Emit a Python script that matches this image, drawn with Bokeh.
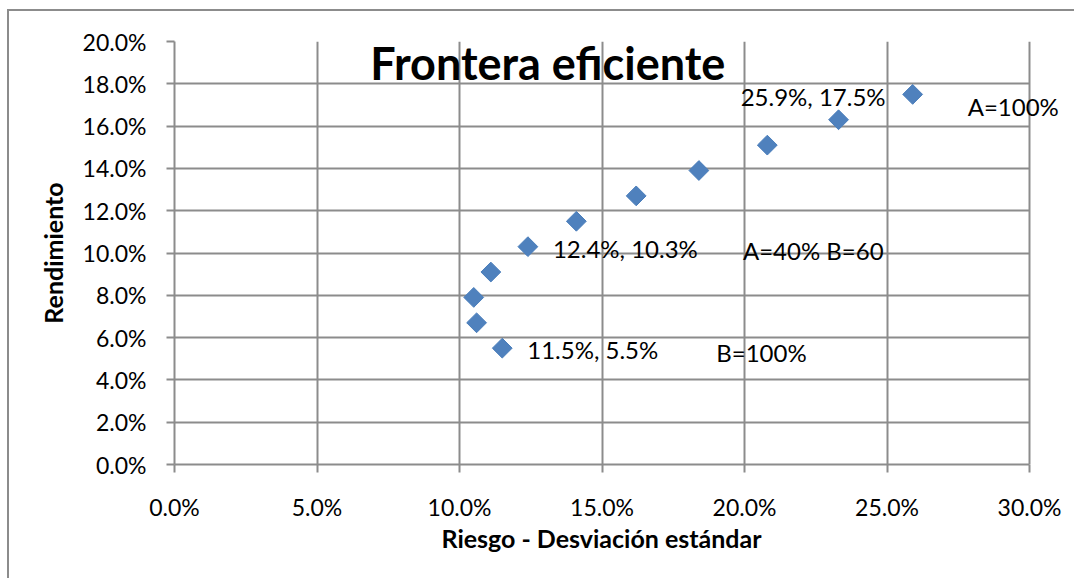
from bokeh.plotting import figure
from bokeh.models import Range1d, SingleIntervalTicker, PrintfTickFormatter, ColumnDataSource, Label, BoxAnnotation, Title
from bokeh.embed import file_html
from bokeh.resources import INLINE
import math

# data (percent)
riesgo = [25.9, 23.3, 20.8, 18.4, 16.2, 14.1, 12.4, 11.1, 10.5, 10.6, 11.5]
rendimiento = [17.5, 16.3, 15.1, 13.9, 12.7, 11.5, 10.3, 9.1, 7.9, 6.7, 5.5]

# annotations attached to points (index into series)
label_texts = ["25.9%, 17.5%", "12.4%, 10.3%", "11.5%, 5.5%", "A=100%", "A=40% B=60", "B=100%"]
label_point = [0, 6, 10, 0, 6, 10]

title_text = "Frontera eficiente"
x_title = "Riesgo - Desviación estándar"
y_title = "Rendimiento"

X_MAX, Y_MAX = 30, 20

GRID = "#8c8c8c"
FONT = "Lato"

# frame extends to canvas edge so that labels past the 30% line are not clipped
FRAME_W = 1067 - 165
x_end = X_MAX * FRAME_W / 855.0

p = figure(width=1067, height=569, output_backend="svg", toolbar_location=None,
           x_range=Range1d(0, x_end), y_range=Range1d(0, Y_MAX),
           min_border_left=165, min_border_right=0, min_border_top=30, min_border_bottom=116)
p.styles = {"border-top": f"2px solid {GRID}", "border-left": f"2px solid {GRID}",
            "margin-left": "7px", "margin-top": "9px"}
p.outline_line_color = None
p.background_fill_color = "white"

for ax in (p.xaxis[0], p.yaxis[0]):
    ax.axis_line_color = GRID
    ax.axis_line_width = 2
    ax.major_tick_line_color = GRID
    ax.major_tick_line_width = 2
    ax.major_tick_in = 0
    ax.major_tick_out = 8
    ax.minor_tick_line_color = None
    ax.major_label_text_font = FONT
    ax.major_label_text_font_size = "23px"
    ax.major_label_text_color = "black"
    ax.axis_label_text_font = FONT
    ax.axis_label_text_font_style = "bold"
    ax.axis_label_text_font_size = "25px"
    ax.axis_label_text_color = "black"
    ax.formatter = PrintfTickFormatter(format="%.1f%%")

p.xaxis[0].ticker = SingleIntervalTicker(interval=5, num_minor_ticks=0)
p.yaxis[0].ticker = SingleIntervalTicker(interval=2, num_minor_ticks=0)
p.xaxis[0].bounds = (0, X_MAX)
p.yaxis[0].axis_label = y_title
p.xaxis[0].major_label_standoff = 20
p.yaxis[0].major_label_standoff = 20
p.yaxis[0].axis_label_standoff = 12

# x-axis title placed under the middle of the 0-30% span (frame is wider than the axis)
p.add_layout(Title(text=x_title, align="left", offset=267, standoff=-6,
                   text_font=FONT, text_font_style="bold", text_font_size="25px",
                   text_color="black"), "below")

for g in (p.xgrid[0], p.ygrid[0]):
    g.grid_line_color = GRID
    g.grid_line_width = 2
p.xgrid[0].bounds = (0, X_MAX)

masked = False
try:
    p.ygrid[0].cross_bounds = (0, X_MAX)
except Exception:
    masked = True
if masked:
    p.add_layout(BoxAnnotation(left=X_MAX * 1.0015, fill_color="white", fill_alpha=1,
                               line_color=None, level="glyph"))

src = ColumnDataSource(dict(x=riesgo, y=rendimiento))
p.scatter("x", "y", source=src, marker="square", size=14, angle=math.pi / 4,
          fill_color="#4F81BD", line_color="#4A7EBB", line_width=1)

# annotation placement (pixel offsets from their points; y positive = up)
xo = [-172, 25, 25, 55, 215, 214]
yo = [-2, -2, -1, -12, -4, -4]
for t, i, dx, dy in zip(label_texts, label_point, xo, yo):
    p.add_layout(Label(x=riesgo[i], y=rendimiento[i], x_offset=dx, y_offset=dy, text=t,
                       text_font=FONT, text_font_size="24px", text_color="black",
                       text_align="left", text_baseline="middle", level="overlay"))

p.add_layout(Label(x=13.1, y=19.0, text=title_text, text_font=FONT, text_font_style="bold",
                   text_font_size="45px", text_align="center", text_baseline="middle",
                   text_color="black", level="overlay"))

open("out.html", "w").write(file_html(p, INLINE))
